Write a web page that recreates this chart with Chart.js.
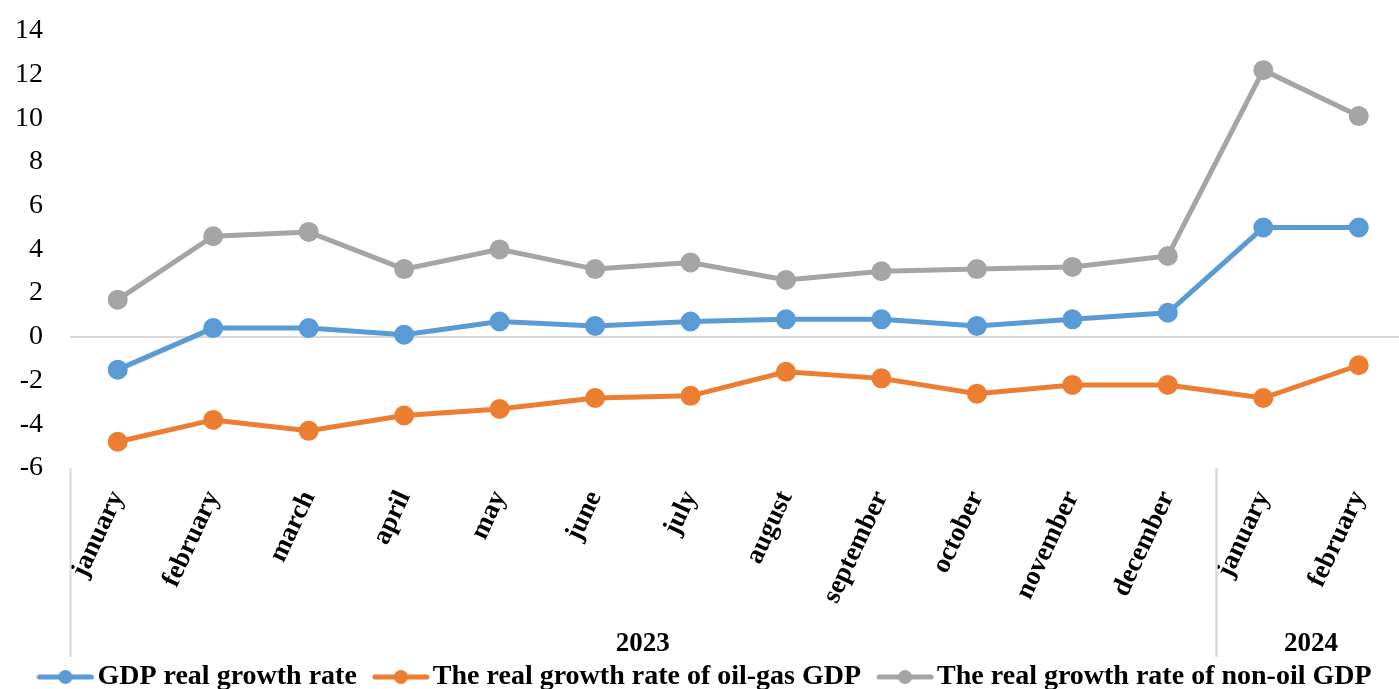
<!DOCTYPE html>
<html>
<head>
<meta charset="utf-8">
<script src="https://cdn.jsdelivr.net/npm/chart.js@4/dist/chart.umd.min.js"></script>
<style>
  html, body { margin: 0; padding: 0; background: #fff; overflow: hidden; }
  #wrap { width: 1419px; height: 714px; margin-top: -13px; }
</style>
</head>
<body>
<div id="wrap"><canvas id="chart" width="1419" height="714"></canvas></div>
<script>
// Monthly categories and the year groups they belong to
const months = ['january', 'february', 'march', 'april', 'may', 'june', 'july',
  'august', 'september', 'october', 'november', 'december', 'january', 'february'];
const years = ['2023', '2024'];
const monthsPerYear = [12, 2];

// Growth rates, %
const gdpGrowth    = [-1.5, 0.4, 0.4, 0.1, 0.7, 0.5, 0.7, 0.8, 0.8, 0.5, 0.8, 1.1, 5.0, 5.0];
const oilGasGrowth = [-4.8, -3.8, -4.3, -3.6, -3.3, -2.8, -2.7, -1.6, -1.9, -2.6, -2.2, -2.2, -2.8, -1.3];
const nonOilGrowth = [1.7, 4.6, 4.8, 3.1, 4.0, 3.1, 3.4, 2.6, 3.0, 3.1, 3.2, 3.7, 12.2, 10.1];

const seriesNames = ['GDP real growth rate',
  'The real growth rate of oil-gas GDP',
  'The real growth rate of non-oil GDP'];
const seriesColors = ['#5B9BD5', '#ED7D31', '#A5A5A5'];

// Value axis range
const yMin = -6, yMax = 14, yStep = 2;

const SERIF = "'Liberation Serif', 'Times New Roman', serif";

// Legend marker: a short line with a dot in the middle
function legendMarker(color) {
  const c = document.createElement('canvas');
  c.width = 58; c.height = 16;
  const g = c.getContext('2d');
  g.strokeStyle = color; g.lineWidth = 5; g.lineCap = 'round';
  g.beginPath(); g.moveTo(3, 8); g.lineTo(55, 8); g.stroke();
  g.fillStyle = color;
  g.beginPath(); g.arc(29, 8, 7, 0, Math.PI * 2); g.fill();
  return c;
}
const markers = seriesColors.map(legendMarker);

// Year labels and separators under the month labels
const yearGroups = {
  id: 'yearGroups',
  afterDraw(chart) {
    const x = chart.scales.x;
    const ctx = chart.ctx;
    const half = (x.getPixelForTick(1) - x.getPixelForTick(0)) / 2;
    const top = chart.chartArea.bottom;
    ctx.save();
    ctx.strokeStyle = '#D9D9D9';
    ctx.lineWidth = 2;
    ctx.fillStyle = '#000';
    ctx.font = 'bold 27px ' + SERIF;
    ctx.textAlign = 'center';
    ctx.textBaseline = 'middle';
    let start = 0;
    years.forEach((yr, i) => {
      const end = start + monthsPerYear[i] - 1;
      const left = x.getPixelForTick(start) - half;
      const right = x.getPixelForTick(end) + half;
      [left, right].forEach(px => {
        ctx.beginPath();
        ctx.moveTo(Math.round(px) + 0.5, top);
        ctx.lineTo(Math.round(px) + 0.5, top + 189);
        ctx.stroke();
      });
      ctx.fillText(yr, (x.getPixelForTick(start) + x.getPixelForTick(end)) / 2, top + 176);
      start = end + 1;
    });
    ctx.restore();
  }
};

const datasets = [gdpGrowth, oilGasGrowth, nonOilGrowth].map((vals, i) => ({
  label: seriesNames[i],
  data: vals,
  borderColor: seriesColors[i],
  backgroundColor: seriesColors[i],
  pointBackgroundColor: seriesColors[i],
  pointBorderColor: seriesColors[i],
  borderWidth: 5,
  pointRadius: 7.5,
  pointHoverRadius: 7.5,
  tension: 0,
  fill: false
}));

new Chart(document.getElementById('chart'), {
  type: 'line',
  data: { labels: months, datasets },
  options: {
    responsive: false,
    animation: false,
    devicePixelRatio: 1,
    layout: { padding: { top: 15, left: 0, right: 0, bottom: 0 } },
    plugins: {
      title: { display: false },
      tooltip: { enabled: false },
      legend: {
        position: 'bottom',
        labels: {
          usePointStyle: true,
          pointStyleWidth: 36,
          padding: 26,
          color: '#000',
          font: { family: SERIF, size: 28, weight: 'bold' },
          generateLabels(chart) {
            const items = Chart.defaults.plugins.legend.labels.generateLabels(chart);
            items.forEach((it, i) => { it.pointStyle = markers[i]; it.fontColor = '#000'; });
            return items;
          }
        }
      }
    },
    scales: {
      x: {
        offset: true,
        grid: { display: false },
        border: { display: false },
        ticks: {
          autoSkip: false,
          minRotation: 65,
          maxRotation: 65,
          padding: 10,
          color: '#000',
          font: { family: SERIF, size: 27, weight: 'bold' }
        },
        afterFit(scale) { scale.height = 169; }
      },
      y: {
        min: yMin,
        max: yMax,
        border: { display: false },
        grid: {
          drawTicks: false,
          lineWidth: 2,
          color: c => (c.tick && c.tick.value === 0) ? '#D9D9D9' : 'rgba(0,0,0,0)'
        },
        ticks: {
          stepSize: yStep,
          padding: 27,
          color: '#000',
          font: { family: SERIF, size: 28 }
        },
        afterFit(scale) { scale.width = 70; }
      }
    }
  },
  plugins: [yearGroups]
});
</script>
</body>
</html>
